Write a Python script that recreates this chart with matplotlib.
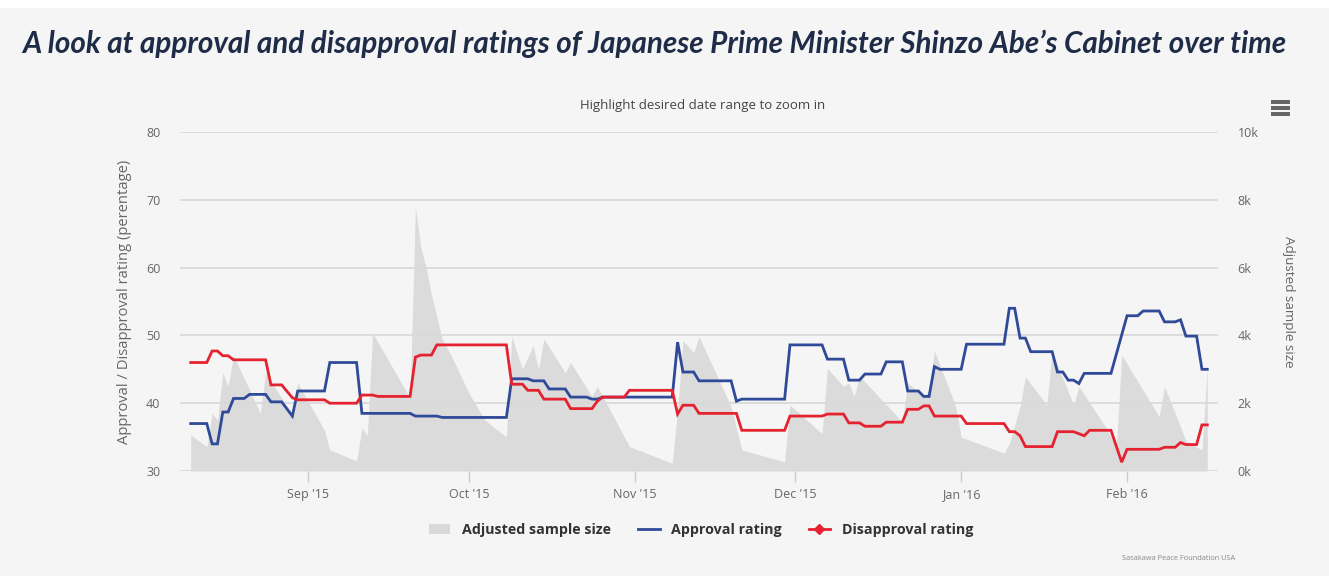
import matplotlib
matplotlib.use("Agg")
import matplotlib.pyplot as plt
import matplotlib.dates as mdates
from matplotlib.lines import Line2D
from matplotlib.patches import Patch, Rectangle
import pandas as pd

# Approval rating (percent) at the dates where the line changes
approval_dates = [
    "2015-08-10", "2015-08-13", "2015-08-14", "2015-08-15", "2015-08-16", "2015-08-17",
    "2015-08-18", "2015-08-20", "2015-08-21", "2015-08-24", "2015-08-25", "2015-08-27",
    "2015-08-29", "2015-08-30", "2015-09-04", "2015-09-05", "2015-09-10", "2015-09-11",
    "2015-09-20", "2015-09-21", "2015-09-25", "2015-09-26", "2015-10-08", "2015-10-09",
    "2015-10-12", "2015-10-13", "2015-10-15", "2015-10-16", "2015-10-19", "2015-10-20",
    "2015-10-23", "2015-10-24", "2015-10-25", "2015-10-26", "2015-11-08", "2015-11-09",
    "2015-11-10", "2015-11-12", "2015-11-13", "2015-11-19", "2015-11-20", "2015-11-21",
    "2015-11-29", "2015-11-30", "2015-12-06", "2015-12-07", "2015-12-10", "2015-12-11",
    "2015-12-13", "2015-12-14", "2015-12-17", "2015-12-18", "2015-12-21", "2015-12-22",
    "2015-12-24", "2015-12-25", "2015-12-26", "2015-12-27", "2015-12-28", "2016-01-01",
    "2016-01-02", "2016-01-09", "2016-01-10", "2016-01-11", "2016-01-12", "2016-01-13",
    "2016-01-14", "2016-01-18", "2016-01-19", "2016-01-20", "2016-01-21", "2016-01-22",
    "2016-01-23", "2016-01-24", "2016-01-29", "2016-02-01", "2016-02-03", "2016-02-04",
    "2016-02-07", "2016-02-08", "2016-02-10", "2016-02-11", "2016-02-12", "2016-02-14",
    "2016-02-15", "2016-02-16",
]
approval_values = [
    37.0, 37.0, 34.0, 34.0, 38.7, 38.7,
    40.7, 40.7, 41.3, 41.3, 40.2, 40.2,
    38.1, 41.8, 41.8, 46.0, 46.0, 38.5,
    38.5, 38.1, 38.1, 37.9, 37.9, 43.6,
    43.6, 43.3, 43.3, 42.1, 42.1, 40.9,
    40.9, 40.6, 40.6, 40.9, 40.9, 49.0,
    44.6, 44.6, 43.3, 43.3, 40.3, 40.6,
    40.6, 48.6, 48.6, 46.5, 46.5, 43.4,
    43.4, 44.3, 44.3, 46.1, 46.1, 41.8,
    41.8, 41.0, 41.0, 45.4, 45.0, 45.0,
    48.7, 48.7, 54.0, 54.0, 49.6, 49.6,
    47.6, 47.6, 44.6, 44.6, 43.4, 43.4,
    42.9, 44.4, 44.4, 52.9, 52.9, 53.6,
    53.6, 52.0, 52.0, 52.3, 49.9, 49.9,
    45.0, 45.0,
]

# Disapproval rating (percent)
disapproval_dates = [
    "2015-08-10", "2015-08-13", "2015-08-14", "2015-08-15", "2015-08-16", "2015-08-17",
    "2015-08-18", "2015-08-24", "2015-08-25", "2015-08-27", "2015-08-29", "2015-08-30",
    "2015-09-04", "2015-09-05", "2015-09-10", "2015-09-11", "2015-09-13", "2015-09-14",
    "2015-09-20", "2015-09-21", "2015-09-22", "2015-09-24", "2015-09-25", "2015-10-08",
    "2015-10-09", "2015-10-11", "2015-10-12", "2015-10-14", "2015-10-15", "2015-10-19",
    "2015-10-20", "2015-10-24", "2015-10-25", "2015-10-26", "2015-10-30", "2015-10-31",
    "2015-11-08", "2015-11-09", "2015-11-10", "2015-11-12", "2015-11-13", "2015-11-20",
    "2015-11-21", "2015-11-29", "2015-11-30", "2015-12-06", "2015-12-07", "2015-12-10",
    "2015-12-11", "2015-12-13", "2015-12-14", "2015-12-17", "2015-12-18", "2015-12-21",
    "2015-12-22", "2015-12-24", "2015-12-25", "2015-12-26", "2015-12-27", "2016-01-01",
    "2016-01-02", "2016-01-09", "2016-01-10", "2016-01-11", "2016-01-12", "2016-01-13",
    "2016-01-18", "2016-01-19", "2016-01-22", "2016-01-24", "2016-01-25", "2016-01-29",
    "2016-01-31", "2016-02-01", "2016-02-07", "2016-02-08", "2016-02-10", "2016-02-11",
    "2016-02-12", "2016-02-14", "2016-02-15", "2016-02-16",
]
disapproval_values = [
    46.0, 46.0, 47.7, 47.7, 47.0, 47.0,
    46.4, 46.4, 42.7, 42.7, 40.8, 40.5,
    40.5, 40.0, 40.0, 41.2, 41.2, 41.0,
    41.0, 46.8, 47.1, 47.1, 48.6, 48.6,
    42.8, 42.8, 41.9, 41.9, 40.6, 40.6,
    39.2, 39.2, 40.3, 40.9, 40.9, 41.9,
    41.9, 38.4, 39.7, 39.7, 38.5, 38.5,
    36.0, 36.0, 38.1, 38.1, 38.4, 38.4,
    37.1, 37.1, 36.6, 36.6, 37.2, 37.2,
    39.1, 39.1, 39.6, 39.6, 38.1, 38.1,
    37.0, 37.0, 35.8, 35.8, 35.2, 33.6,
    33.6, 35.8, 35.8, 35.2, 36.0, 36.0,
    31.3, 33.2, 33.2, 33.5, 33.5, 34.2,
    33.9, 33.9, 36.8, 36.8,
]

# Adjusted sample size (right axis)
sample_dates = [
    "2015-08-10", "2015-08-13", "2015-08-14", "2015-08-15", "2015-08-16", "2015-08-17",
    "2015-08-18", "2015-08-21", "2015-08-23", "2015-08-24", "2015-08-28", "2015-08-29",
    "2015-08-30", "2015-09-04", "2015-09-05", "2015-09-10", "2015-09-11", "2015-09-12",
    "2015-09-13", "2015-09-20", "2015-09-21", "2015-09-22", "2015-09-23", "2015-09-24",
    "2015-09-26", "2015-09-28", "2015-10-01", "2015-10-04", "2015-10-08", "2015-10-09",
    "2015-10-11", "2015-10-13", "2015-10-14", "2015-10-15", "2015-10-19", "2015-10-20",
    "2015-10-24", "2015-10-25", "2015-10-31", "2015-11-08", "2015-11-09", "2015-11-10",
    "2015-11-12", "2015-11-13", "2015-11-19", "2015-11-21", "2015-11-29", "2015-11-30",
    "2015-12-06", "2015-12-07", "2015-12-10", "2015-12-11", "2015-12-12", "2015-12-13",
    "2015-12-21", "2015-12-22", "2015-12-25", "2015-12-26", "2015-12-27", "2015-12-31",
    "2016-01-01", "2016-01-09", "2016-01-10", "2016-01-12", "2016-01-13", "2016-01-17",
    "2016-01-18", "2016-01-22", "2016-01-23", "2016-01-28", "2016-01-30", "2016-01-31",
    "2016-02-07", "2016-02-08", "2016-02-12", "2016-02-15", "2016-02-16",
]
sample_values = [
    1060, 720, 1700, 1500, 2900, 2500,
    3400, 2400, 1700, 2900, 1900, 1600,
    2600, 1200, 620, 300, 1270, 1050,
    4070, 2150, 7800, 6600, 6000, 5200,
    3900, 3300, 2300, 1500, 1000, 3970,
    3000, 3700, 3000, 3900, 2900, 3200,
    2200, 2500, 720, 230, 1800, 3850,
    3500, 3970, 1900, 620, 270, 1950,
    1100, 3030, 2500, 2600, 2200, 2800,
    1450, 2600, 2200, 2400, 3550, 1900,
    1000, 530, 800, 1900, 2780, 1950,
    3520, 1950, 2490, 1300, 720, 3420,
    1600, 2490, 900, 620, 3070,
]

rating_ticks = [30, 40, 50, 60, 70, 80]
sample_ticks = [0, 2000, 4000, 6000, 8000, 10000]
sample_tick_labels = ["0k", "2k", "4k", "6k", "8k", "10k"]

BG = "#f5f5f5"
BLUE = "#2f4a98"
RED = "#e5222f"
GRAY_AREA = "#d9d9d9"
TEXT = "#666666"
FONT = "Open Sans"

fig = plt.figure(figsize=(13.29, 5.76), dpi=100, facecolor=BG)
fig.add_artist(Rectangle((0, 1 - 8 / 576), 1, 8 / 576, transform=fig.transFigure,
                         color="white", lw=0))

ax = fig.add_axes([180 / 1329, 1 - 471 / 576, 1038 / 1329, 339 / 576])
ax2 = ax.twinx()
ax.set_zorder(ax2.get_zorder() + 1)
ax.patch.set_visible(False)
ax2.patch.set_facecolor(BG)

# sample size area, behind the ratings
ax2.fill_between(pd.to_datetime(sample_dates), sample_values, color=GRAY_AREA,
                 alpha=0.9, lw=0, zorder=2)
ax2.set_ylim(0, 10000)
ax2.set_yticks(sample_ticks)
ax2.set_yticklabels(sample_tick_labels)
ax2.yaxis.grid(True, color="#dadada", lw=1.3, zorder=0)
ax2.set_axisbelow(True)

ax.plot(pd.to_datetime(approval_dates), approval_values, color=BLUE, lw=2.0,
        solid_joinstyle="miter")
ax.plot(pd.to_datetime(disapproval_dates), disapproval_values, color=RED, lw=2.0,
        solid_joinstyle="miter")
ax.set_ylim(30, 80)
ax.set_yticks(rating_ticks)

ax.set_xlim(pd.Timestamp("2015-08-08"), pd.Timestamp("2016-02-18"))
ax.xaxis.set_major_locator(mdates.MonthLocator())
ax.xaxis.set_major_formatter(mdates.DateFormatter("%b '%y"))

for a in (ax, ax2):
    for s in a.spines.values():
        s.set_visible(False)
    a.tick_params(axis="y", length=0, labelsize=9, labelcolor=TEXT, pad=14)
    for lab in a.get_yticklabels():
        lab.set_fontfamily(FONT)
ax.tick_params(axis="x", length=8, width=1, color="#cccccc", labelsize=9,
               labelcolor=TEXT, pad=4)
for lab in ax.get_xticklabels():
    lab.set_fontfamily(FONT)

ax.set_ylabel("Approval / Disapproval rating (perentage)", fontsize=10.6, color=TEXT,
              family=FONT, labelpad=10)
ax2.set_ylabel("Adjusted sample size", fontsize=9.7, color=TEXT, family=FONT,
               rotation=270, labelpad=26)

# titles
fig.text(22 / 1329, 1 - 44 / 576, "A look at approval and disapproval ratings of Japanese "
         "Prime Minister Shinzo Abe\u2019s Cabinet over time", family="Lato",
         weight="bold", style="italic", fontsize=21.3, color="#1f2c48", va="center")
fig.text(703 / 1329, 1 - 106 / 576, "Highlight desired date range to zoom in",
         family=FONT, fontsize=9.5, color="#444444", ha="center", va="center")

# menu icon
for yy in (102, 108, 114):
    fig.add_artist(Rectangle((1271 / 1329, 1 - (yy + 1.5) / 576), 19 / 1329, 3 / 576,
                             transform=fig.transFigure, color="#666666", lw=0))

# legend
handles = [
    Patch(facecolor=GRAY_AREA, edgecolor="none"),
    Line2D([], [], color=BLUE, lw=2),
    Line2D([], [], color=RED, lw=2, marker="D", markersize=5),
]
labels = ["Adjusted sample size", "Approval rating", "Disapproval rating"]
leg = fig.legend(handles, labels, loc="center", bbox_to_anchor=(701 / 1329, 1 - 530 / 576),
                 ncol=3, frameon=False, handlelength=1.5, columnspacing=1.9,
                 prop={"family": FONT, "weight": "bold", "size": 10.3})
for t in leg.get_texts():
    t.set_color("#333333")

fig.text(1235 / 1329, 1 - 558 / 576, "Sasakawa Peace Foundation USA", family=FONT,
         fontsize=5.3, color="#888888", ha="right", va="center")

fig.savefig("out.png", dpi=100, facecolor=BG)
